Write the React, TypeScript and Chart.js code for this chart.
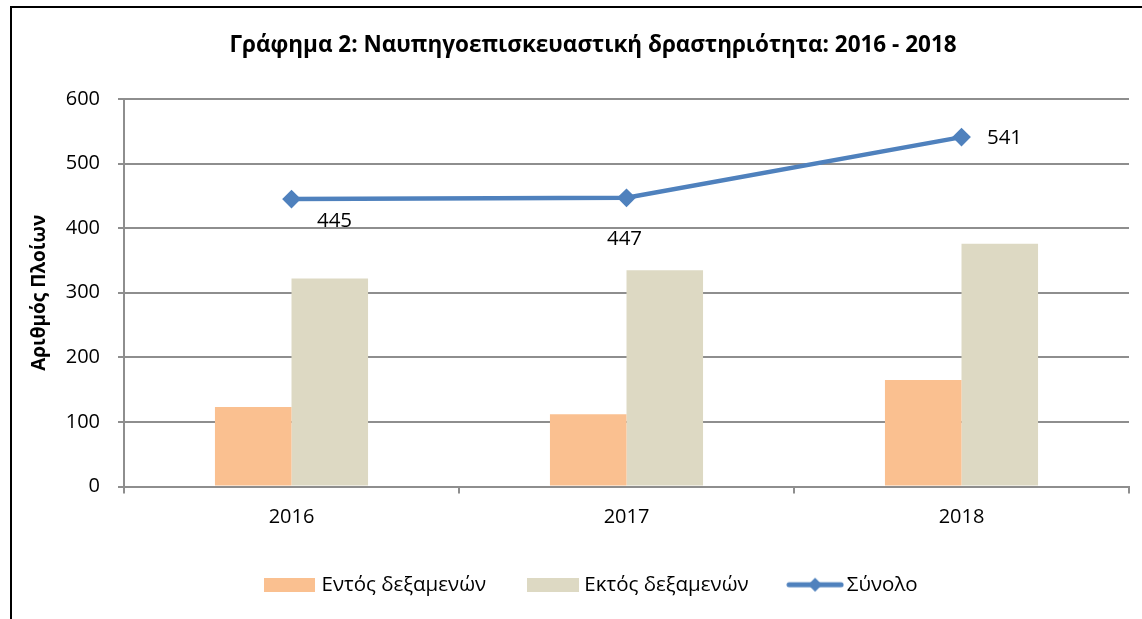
import React, { useEffect, useRef } from 'react';
import { Chart, registerables } from 'chart.js';

Chart.register(...registerables);

// ---- data ----
const years = ['2016', '2017', '2018'];
const insideDock = [123, 112, 165];
const outsideDock = [322, 335, 376];
const totalShips = [445, 447, 541];
const yTicks = [0, 100, 200, 300, 400, 500, 600];
const seriesNames = ['Εντός δεξαμενών', 'Εκτός δεξαμενών', 'Σύνολο'];
const chartTitle = 'Γράφημα 2: Ναυπηγοεπισκευαστική δραστηριότητα: 2016 - 2018';
const yTitle = 'Αριθμός Πλοίων';

// ---- style ----
const FONT = "'Open Sans', sans-serif";
const ORANGE = '#FAC090';
const BEIGE = '#DDD9C3';
const BLUE = '#4F81BD';
const GRID = '#8E8E8E';
// label placement relative to each point (px)
const labelOffsets: [number, number][] = [[43, 22], [-2, 41], [43, 1]];

function makeIcon(w: number, h: number, draw: (g: CanvasRenderingContext2D) => void) {
  const c = document.createElement('canvas');
  c.width = w;
  c.height = h;
  const g = c.getContext('2d')!;
  draw(g);
  return c;
}

const framePlugin = {
  id: 'frame',
  beforeDraw(chart: any) {
    const { ctx } = chart;
    ctx.save();
    ctx.fillStyle = '#fff';
    ctx.fillRect(0, 0, chart.width, chart.height);
    ctx.fillStyle = '#000';
    ctx.fillRect(10, 6, 2, chart.height);
    ctx.fillRect(10, 6, chart.width, 2);
    ctx.restore();
  },
};

const valueLabels = {
  id: 'valueLabels',
  afterDatasetsDraw(chart: any) {
    const { ctx } = chart;
    const meta = chart.getDatasetMeta(2);
    const values = chart.data.datasets[2].data;
    ctx.save();
    ctx.font = `20.5px ${FONT}`;
    ctx.fillStyle = '#000';
    ctx.textAlign = 'center';
    ctx.textBaseline = 'middle';
    meta.data.forEach((pt: any, i: number) => {
      const [dx, dy] = labelOffsets[i];
      ctx.fillText(String(values[i]), pt.x + dx, pt.y + dy);
    });
    ctx.restore();
  },
};

export default function App() {
  const ref = useRef<HTMLCanvasElement>(null);

  useEffect(() => {
    const canvas = ref.current!;
    const icons = [
      makeIcon(51, 14, (g) => {
        g.fillStyle = ORANGE;
        g.fillRect(0, 0, 51, 14);
      }),
      makeIcon(52, 14, (g) => {
        g.fillStyle = BEIGE;
        g.fillRect(0, 0, 52, 14);
      }),
      makeIcon(58, 16, (g) => {
        g.strokeStyle = BLUE;
        g.lineWidth = 5;
        g.lineCap = 'round';
        g.beginPath();
        g.moveTo(3, 8);
        g.lineTo(55, 8);
        g.stroke();
        g.fillStyle = BLUE;
        g.beginPath();
        g.moveTo(22, 8);
        g.lineTo(29, 1);
        g.lineTo(36, 8);
        g.lineTo(29, 15);
        g.closePath();
        g.fill();
      }),
    ];

    const tickFont = { family: FONT, size: 20 };
    const legendFont = { family: FONT, size: 20.5 };

    const chart = new Chart(canvas, {
      type: 'bar',
      data: {
        labels: years,
        datasets: [
          {
            type: 'bar',
            label: seriesNames[0],
            data: insideDock,
            backgroundColor: ORANGE,
            categoryPercentage: 0.457,
            barPercentage: 1,
          },
          {
            type: 'bar',
            label: seriesNames[1],
            data: outsideDock,
            backgroundColor: BEIGE,
            categoryPercentage: 0.457,
            barPercentage: 1,
          },
          {
            type: 'line',
            label: seriesNames[2],
            data: totalShips,
            borderColor: BLUE,
            backgroundColor: BLUE,
            borderWidth: 4.5,
            pointStyle: 'rectRot',
            pointRadius: 8,
            pointBorderWidth: 2,
            pointBackgroundColor: BLUE,
            pointBorderColor: BLUE,
            tension: 0,
          } as any,
        ],
      },
      options: {
        responsive: false,
        animation: false,
        devicePixelRatio: 1,
        layout: { padding: { left: 57, right: 13, top: 0, bottom: 14 } },
        plugins: {
          title: {
            display: true,
            text: chartTitle,
            color: '#000',
            font: { family: FONT, size: 22.5, weight: 'bold', lineHeight: 1.2 },
            padding: { top: 32, bottom: 40 },
          },
          legend: {
            position: 'bottom',
            align: 'center',
            labels: {
              usePointStyle: true,
              pointStyleWidth: 43,
              color: '#000',
              font: legendFont,
              padding: 45,
              generateLabels: (ch: any) =>
                (Chart.defaults.plugins.legend.labels as any)
                  .generateLabels(ch)
                  .map((it: any, i: number) => ({ ...it, pointStyle: icons[i] })),
            },
          },
          tooltip: { enabled: false },
        },
        scales: {
          x: {
            grid: {
              display: true,
              drawOnChartArea: false,
              drawTicks: true,
              tickLength: 7,
              color: GRID,
              lineWidth: 2,
              offset: true,
            },
            border: { display: true, color: GRID, width: 2 },
            ticks: { color: '#000', font: tickFont, padding: 12 },
            afterFit: (s: any) => {
              s.height = 43;
            },
          },
          y: {
            min: 0,
            max: 600,
            ticks: { stepSize: 100, color: '#000', font: tickFont, padding: 18 },
            afterBuildTicks: (s: any) => {
              s.ticks = yTicks.map((v) => ({ value: v }));
            },
            grid: { color: GRID, lineWidth: 2, tickLength: 6, drawTicks: true },
            border: { display: true, color: GRID, width: 2 },
            title: {
              display: true,
              text: yTitle,
              color: '#000',
              font: { family: FONT, size: 19, weight: 'bold' },
              padding: { top: -28.4, bottom: 0 },
            },
            afterFit: (s: any) => {
              s.width = 67;
            },
          },
        },
      } as any,
      plugins: [framePlugin, valueLabels],
    });

    return () => chart.destroy();
  }, []);

  return (
    <div style={{ position: 'fixed', left: 0, top: 0, width: 1142, height: 619, background: '#fff' }}>
      <canvas ref={ref} width={1142} height={619} style={{ display: 'block' }} />
    </div>
  );
}
